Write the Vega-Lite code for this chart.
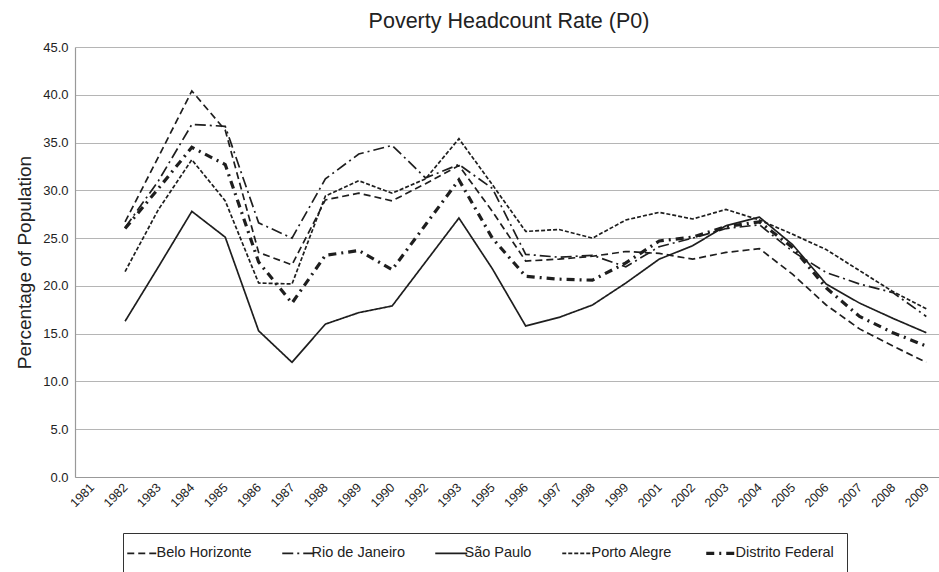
{
  "$schema": "https://vega.github.io/schema/vega-lite/v6.json",
  "width": 868,
  "height": 430,
  "padding": {"left": 15, "top": 10, "right": 0, "bottom": 0},
  "title": {"text": "Poverty Headcount Rate (P0)", "fontSize": 21.5, "font": "Liberation Sans", "fontWeight": "normal", "color": "#222", "offset": 9},
  "config": {
    "view": {"stroke": null},
    "font": "Liberation Sans"
  },
  "datasets": {
    "rows": [
      {"year": "1982", "city": "Belo Horizonte", "value": 26.7},
      {"year": "1983", "city": "Belo Horizonte", "value": 33.5},
      {"year": "1984", "city": "Belo Horizonte", "value": 40.4},
      {"year": "1985", "city": "Belo Horizonte", "value": 36.3},
      {"year": "1986", "city": "Belo Horizonte", "value": 23.5},
      {"year": "1987", "city": "Belo Horizonte", "value": 22.2},
      {"year": "1988", "city": "Belo Horizonte", "value": 29.0},
      {"year": "1989", "city": "Belo Horizonte", "value": 29.7},
      {"year": "1990", "city": "Belo Horizonte", "value": 28.9},
      {"year": "1992", "city": "Belo Horizonte", "value": 30.7},
      {"year": "1993", "city": "Belo Horizonte", "value": 32.6},
      {"year": "1995", "city": "Belo Horizonte", "value": 27.8},
      {"year": "1996", "city": "Belo Horizonte", "value": 22.6},
      {"year": "1997", "city": "Belo Horizonte", "value": 22.8},
      {"year": "1998", "city": "Belo Horizonte", "value": 23.1},
      {"year": "1999", "city": "Belo Horizonte", "value": 23.6},
      {"year": "2001", "city": "Belo Horizonte", "value": 23.4},
      {"year": "2002", "city": "Belo Horizonte", "value": 22.8},
      {"year": "2003", "city": "Belo Horizonte", "value": 23.5},
      {"year": "2004", "city": "Belo Horizonte", "value": 23.9},
      {"year": "2005", "city": "Belo Horizonte", "value": 21.2},
      {"year": "2006", "city": "Belo Horizonte", "value": 18.0},
      {"year": "2007", "city": "Belo Horizonte", "value": 15.5},
      {"year": "2008", "city": "Belo Horizonte", "value": 13.7},
      {"year": "2009", "city": "Belo Horizonte", "value": 12.0},

      {"year": "1982", "city": "Rio de Janeiro", "value": 26.1},
      {"year": "1983", "city": "Rio de Janeiro", "value": 31.0},
      {"year": "1984", "city": "Rio de Janeiro", "value": 36.9},
      {"year": "1985", "city": "Rio de Janeiro", "value": 36.7},
      {"year": "1986", "city": "Rio de Janeiro", "value": 26.6},
      {"year": "1987", "city": "Rio de Janeiro", "value": 25.0},
      {"year": "1988", "city": "Rio de Janeiro", "value": 31.2},
      {"year": "1989", "city": "Rio de Janeiro", "value": 33.8},
      {"year": "1990", "city": "Rio de Janeiro", "value": 34.7},
      {"year": "1992", "city": "Rio de Janeiro", "value": 31.3},
      {"year": "1993", "city": "Rio de Janeiro", "value": 32.7},
      {"year": "1995", "city": "Rio de Janeiro", "value": 30.2},
      {"year": "1996", "city": "Rio de Janeiro", "value": 23.3},
      {"year": "1997", "city": "Rio de Janeiro", "value": 23.0},
      {"year": "1998", "city": "Rio de Janeiro", "value": 23.2},
      {"year": "1999", "city": "Rio de Janeiro", "value": 22.0},
      {"year": "2001", "city": "Rio de Janeiro", "value": 24.1},
      {"year": "2002", "city": "Rio de Janeiro", "value": 25.0},
      {"year": "2003", "city": "Rio de Janeiro", "value": 26.0},
      {"year": "2004", "city": "Rio de Janeiro", "value": 26.4},
      {"year": "2005", "city": "Rio de Janeiro", "value": 23.6},
      {"year": "2006", "city": "Rio de Janeiro", "value": 21.4},
      {"year": "2007", "city": "Rio de Janeiro", "value": 20.2},
      {"year": "2008", "city": "Rio de Janeiro", "value": 19.3},
      {"year": "2009", "city": "Rio de Janeiro", "value": 16.8},

      {"year": "1982", "city": "São Paulo", "value": 16.3},
      {"year": "1983", "city": "São Paulo", "value": 22.0},
      {"year": "1984", "city": "São Paulo", "value": 27.8},
      {"year": "1985", "city": "São Paulo", "value": 25.1},
      {"year": "1986", "city": "São Paulo", "value": 15.3},
      {"year": "1987", "city": "São Paulo", "value": 12.0},
      {"year": "1988", "city": "São Paulo", "value": 16.0},
      {"year": "1989", "city": "São Paulo", "value": 17.2},
      {"year": "1990", "city": "São Paulo", "value": 17.9},
      {"year": "1992", "city": "São Paulo", "value": 22.5},
      {"year": "1993", "city": "São Paulo", "value": 27.1},
      {"year": "1995", "city": "São Paulo", "value": 21.8},
      {"year": "1996", "city": "São Paulo", "value": 15.8},
      {"year": "1997", "city": "São Paulo", "value": 16.7},
      {"year": "1998", "city": "São Paulo", "value": 18.0},
      {"year": "1999", "city": "São Paulo", "value": 20.3},
      {"year": "2001", "city": "São Paulo", "value": 22.8},
      {"year": "2002", "city": "São Paulo", "value": 24.2},
      {"year": "2003", "city": "São Paulo", "value": 26.3},
      {"year": "2004", "city": "São Paulo", "value": 27.2},
      {"year": "2005", "city": "São Paulo", "value": 24.3},
      {"year": "2006", "city": "São Paulo", "value": 20.2},
      {"year": "2007", "city": "São Paulo", "value": 18.2},
      {"year": "2008", "city": "São Paulo", "value": 16.6},
      {"year": "2009", "city": "São Paulo", "value": 15.1},

      {"year": "1982", "city": "Porto Alegre", "value": 21.5},
      {"year": "1983", "city": "Porto Alegre", "value": 28.0},
      {"year": "1984", "city": "Porto Alegre", "value": 33.2},
      {"year": "1985", "city": "Porto Alegre", "value": 28.9},
      {"year": "1986", "city": "Porto Alegre", "value": 20.3},
      {"year": "1987", "city": "Porto Alegre", "value": 20.2},
      {"year": "1988", "city": "Porto Alegre", "value": 29.4},
      {"year": "1989", "city": "Porto Alegre", "value": 31.0},
      {"year": "1990", "city": "Porto Alegre", "value": 29.7},
      {"year": "1992", "city": "Porto Alegre", "value": 31.2},
      {"year": "1993", "city": "Porto Alegre", "value": 35.4},
      {"year": "1995", "city": "Porto Alegre", "value": 30.6},
      {"year": "1996", "city": "Porto Alegre", "value": 25.7},
      {"year": "1997", "city": "Porto Alegre", "value": 25.9},
      {"year": "1998", "city": "Porto Alegre", "value": 25.0},
      {"year": "1999", "city": "Porto Alegre", "value": 26.9},
      {"year": "2001", "city": "Porto Alegre", "value": 27.7},
      {"year": "2002", "city": "Porto Alegre", "value": 27.0},
      {"year": "2003", "city": "Porto Alegre", "value": 28.0},
      {"year": "2004", "city": "Porto Alegre", "value": 26.9},
      {"year": "2005", "city": "Porto Alegre", "value": 25.4},
      {"year": "2006", "city": "Porto Alegre", "value": 23.8},
      {"year": "2007", "city": "Porto Alegre", "value": 21.6},
      {"year": "2008", "city": "Porto Alegre", "value": 19.4},
      {"year": "2009", "city": "Porto Alegre", "value": 17.6},

      {"year": "1982", "city": "Distrito Federal", "value": 26.0},
      {"year": "1983", "city": "Distrito Federal", "value": 30.2},
      {"year": "1984", "city": "Distrito Federal", "value": 34.5},
      {"year": "1985", "city": "Distrito Federal", "value": 32.7},
      {"year": "1986", "city": "Distrito Federal", "value": 22.5},
      {"year": "1987", "city": "Distrito Federal", "value": 18.2},
      {"year": "1988", "city": "Distrito Federal", "value": 23.2},
      {"year": "1989", "city": "Distrito Federal", "value": 23.7},
      {"year": "1990", "city": "Distrito Federal", "value": 21.7},
      {"year": "1992", "city": "Distrito Federal", "value": 26.4},
      {"year": "1993", "city": "Distrito Federal", "value": 31.1},
      {"year": "1995", "city": "Distrito Federal", "value": 25.0},
      {"year": "1996", "city": "Distrito Federal", "value": 21.0},
      {"year": "1997", "city": "Distrito Federal", "value": 20.7},
      {"year": "1998", "city": "Distrito Federal", "value": 20.6},
      {"year": "1999", "city": "Distrito Federal", "value": 22.4},
      {"year": "2001", "city": "Distrito Federal", "value": 24.7},
      {"year": "2002", "city": "Distrito Federal", "value": 25.1},
      {"year": "2003", "city": "Distrito Federal", "value": 26.2},
      {"year": "2004", "city": "Distrito Federal", "value": 26.7},
      {"year": "2005", "city": "Distrito Federal", "value": 24.0},
      {"year": "2006", "city": "Distrito Federal", "value": 19.8},
      {"year": "2007", "city": "Distrito Federal", "value": 16.8},
      {"year": "2008", "city": "Distrito Federal", "value": 15.1},
      {"year": "2009", "city": "Distrito Federal", "value": 13.7}
    ]
  },
  "data": {"name": "rows"},
  "mark": {"type": "line", "color": "#1e1e1e", "strokeJoin": "miter"},
  "encoding": {
    "x": {
      "field": "year",
      "type": "ordinal",
      "scale": {
        "type": "point",
        "padding": 0.5,
        "domain": ["1981","1982","1983","1984","1985","1986","1987","1988","1989","1990","1992","1993","1995","1996","1997","1998","1999","2001","2002","2003","2004","2005","2006","2007","2008","2009"]
      },
      "axis": {
        "title": null,
        "grid": false,
        "ticks": false,
        "domainColor": "#999",
        "domainWidth": 1.2,
        "labelAngle": -45,
        "labelAlign": "right",
        "labelBaseline": "middle",
        "labelPadding": 8,
        "labelDx": 2,
        "labelDy": 9,
        "labelFontSize": 12.5,
        "labelColor": "#222",
        "labelFont": "Liberation Sans"
      }
    },
    "y": {
      "field": "value",
      "type": "quantitative",
      "scale": {"domain": [0, 45], "nice": false},
      "axis": {
        "values": [0, 5, 10, 15, 20, 25, 30, 35, 40, 45],
        "format": ".1f",
        "title": "Percentage of Population",
        "titleFontSize": 19,
        "titleFontWeight": "normal",
        "titleColor": "#222",
        "titleFont": "Liberation Sans",
        "titlePadding": 8,
        "grid": true,
        "gridColor": "#b5b5b5",
        "gridWidth": 1.2,
        "ticks": false,
        "domainColor": "#999",
        "domainWidth": 1.2,
        "labelPadding": 7,
        "labelFontSize": 13,
        "labelColor": "#222",
        "labelFont": "Liberation Sans"
      }
    },
    "strokeWidth": {
      "condition": {"test": "datum.city === 'Distrito Federal'", "value": 3.2},
      "value": 1.7
    },
    "strokeDash": {
      "field": "city",
      "type": "nominal",
      "scale": {
        "domain": ["Belo Horizonte", "Rio de Janeiro", "São Paulo", "Porto Alegre", "Distrito Federal"],
        "range": [[7, 4], [11, 4, 2, 4], [1, 0], [4, 2], [8, 5, 2, 5]]
      },
      "legend": {
        "title": null,
        "orient": "none",
        "legendX": 48,
        "legendY": 486,
        "direction": "horizontal",
        "strokeColor": "#333",
        "padding": 13,
        "columnPadding": 26,
        "symbolType": "stroke",
        "symbolSize": 1024,
        "symbolOffset": 0,
        "symbolStrokeColor": "#1e1e1e",
        "labelFontSize": 14.5,
        "labelColor": "#222",
        "labelFont": "Liberation Sans",
        "labelOffset": 6,
        "encode": {
          "symbols": {
            "update": {
              "strokeWidth": {"signal": "datum.label === 'Distrito Federal' ? 3.2 : 1.7"}
            }
          }
        }
      }
    }
  }
}
